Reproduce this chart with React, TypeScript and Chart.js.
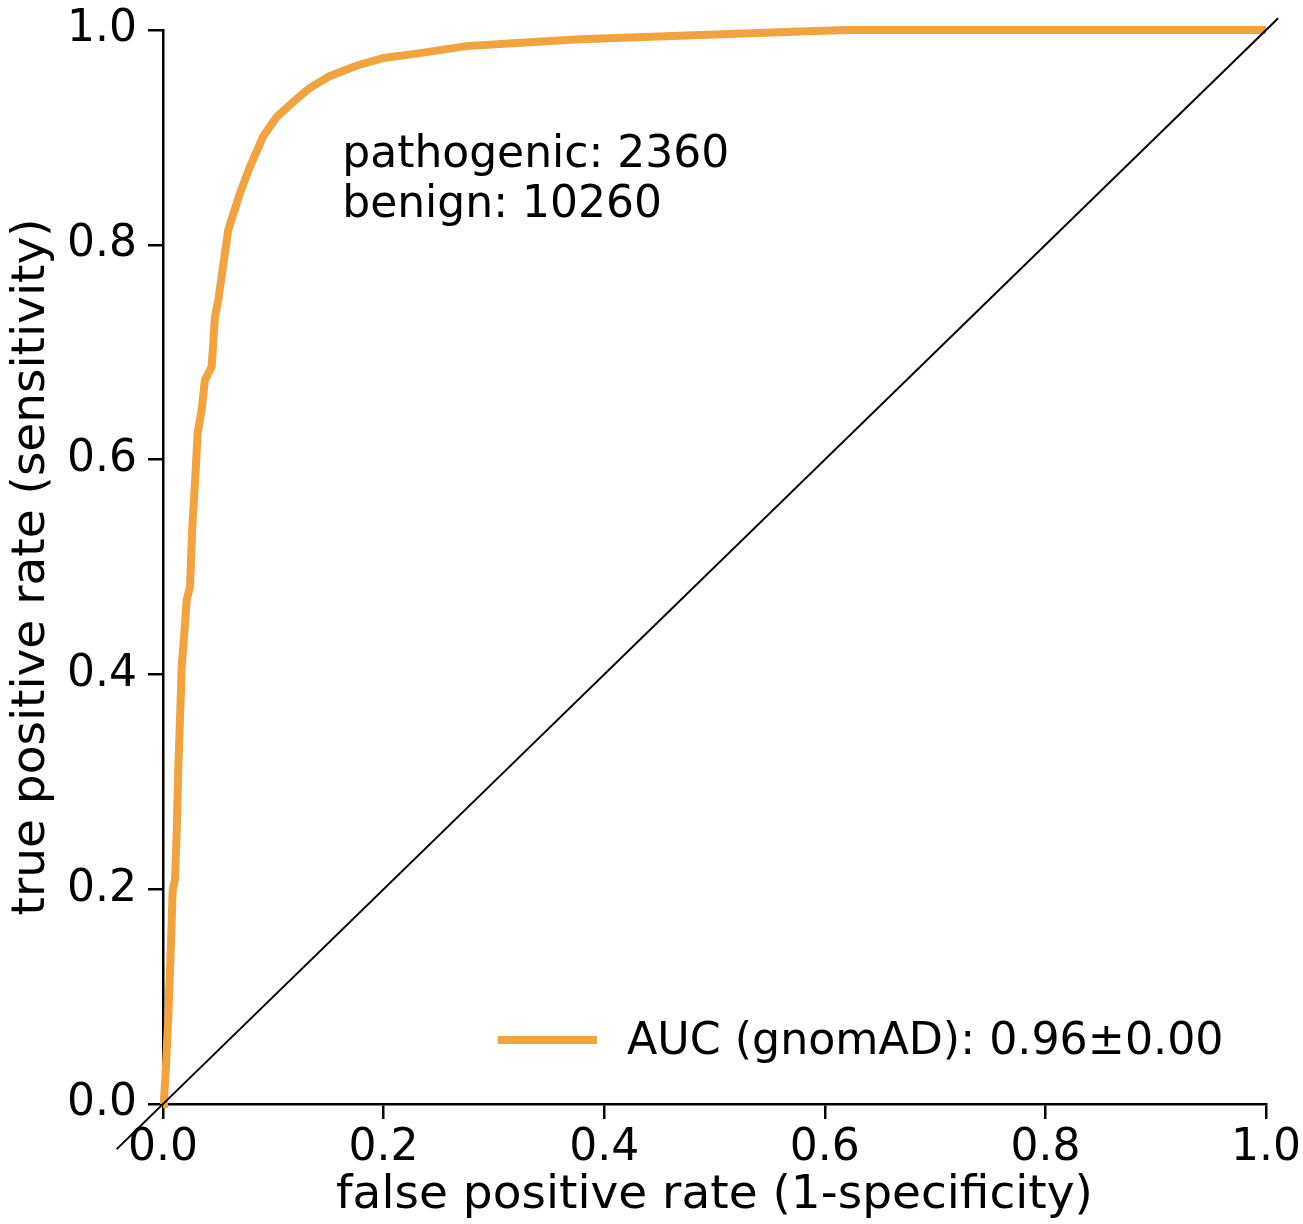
import React, { useEffect, useRef } from "react";
import { Chart, registerables } from "chart.js";

Chart.register(...registerables);

const FONT = "'DejaVu Sans', 'Liberation Sans', sans-serif";

// ROC curve: false positive rate (x) vs true positive rate (y)
const fprValues = [
  0, 0.0009, 0.0027, 0.0048, 0.007, 0.0088, 0.0109, 0.0124, 0.0139, 0.016,
  0.0169, 0.0193, 0.0215, 0.0245, 0.0266, 0.029, 0.0314, 0.035, 0.038, 0.0441,
  0.0471, 0.0502, 0.0592, 0.0698, 0.0789, 0.0909, 0.103, 0.118, 0.133, 0.151,
  0.176, 0.2, 0.23, 0.275, 0.321, 0.378, 0.4295, 0.4687, 0.52, 0.5775,
  0.62, 1.0,
];
const tprValues = [
  0, 0.004, 0.035, 0.081, 0.143, 0.199, 0.209, 0.252, 0.314, 0.376,
  0.407, 0.438, 0.469, 0.482, 0.5375, 0.578, 0.6245, 0.646, 0.674, 0.6865,
  0.733, 0.749, 0.814, 0.848, 0.873, 0.901, 0.919, 0.933, 0.946, 0.957,
  0.967, 0.974, 0.978, 0.985, 0.988, 0.9913, 0.9932, 0.9947, 0.9965, 0.9985,
  1.0, 1.0,
];

// chance diagonal (extends slightly past the axes)
const diagX = [-0.042, 1.011];
const diagY = [-0.042, 1.011];

const xTickValues = [0, 0.2, 0.4, 0.6, 0.8, 1.0];
const xTickLabels = ["0.0", "0.2", "0.4", "0.6", "0.8", "1.0"];
const yTickValues = [0, 0.2, 0.4, 0.6, 0.8, 1.0];
const yTickLabels = ["0.0", "0.2", "0.4", "0.6", "0.8", "1.0"];

const xAxisTitle = "false positive rate (1-specificity)";
const yAxisTitle = "true positive rate (sensitivity)";
const annotationLines = ["pathogenic: 2360", "benign: 10260"];
const legendLabel = "AUC (gnomAD): 0.96\u00B10.00";

const CURVE_COLOR = "#F0A33F";

const overlayPlugin = {
  id: "overlay",
  afterDatasetsDraw(chart: any) {
    const { ctx, chartArea, scales } = chart;
    const xs = scales.x;
    const ys = scales.y;
    ctx.save();
    // annotation text
    ctx.fillStyle = "#000";
    ctx.font = `44px ${FONT}`;
    ctx.textAlign = "left";
    ctx.textBaseline = "alphabetic";
    const ax = xs.getPixelForValue(0.1625);
    ctx.fillText(annotationLines[0], ax, ys.getPixelForValue(0.872));
    ctx.fillText(annotationLines[1], ax, ys.getPixelForValue(0.826));

    // legend
    const ly = chartArea.bottom - 64;
    const lx0 = chartArea.left + 335;
    ctx.strokeStyle = CURVE_COLOR;
    ctx.lineWidth = 8;
    ctx.lineCap = "butt";
    ctx.beginPath();
    ctx.moveTo(lx0, ly);
    ctx.lineTo(lx0 + 99, ly);
    ctx.stroke();
    ctx.fillStyle = "#000";
    ctx.textBaseline = "middle";
    ctx.font = `44.3px ${FONT}`;
    ctx.fillText(legendLabel, lx0 + 129, ly + 2);
    ctx.restore();
  },
};

export default function App() {
  const canvasRef = useRef<HTMLCanvasElement | null>(null);

  useEffect(() => {
    document.body.style.margin = "0";
    const canvas = canvasRef.current;
    if (!canvas) return;

    const curve = fprValues.map((x, i) => ({ x, y: tprValues[i] }));
    const diag = diagX.map((x, i) => ({ x, y: diagY[i] }));

    const tickFont = { family: FONT, size: 44 };
    const titleFont = { family: FONT, size: 47, lineHeight: 1.2 };

    const chart = new Chart(canvas, {
      type: "scatter",
      data: {
        datasets: [
          {
            label: "diagonal",
            data: diag,
            showLine: true,
            borderColor: "#000",
            borderWidth: 2,
            pointRadius: 0,
            clip: false as any,
            order: 0,
          },
          {
            label: legendLabel,
            data: curve,
            showLine: true,
            borderColor: CURVE_COLOR,
            borderWidth: 8,
            pointRadius: 0,
            tension: 0,
            clip: false as any,
            order: 1,
          },
        ],
      },
      options: {
        responsive: false,
        animation: false,
        layout: { padding: { top: 30, right: 37, left: 0, bottom: 0 } },
        plugins: {
          legend: { display: false },
          tooltip: { enabled: false },
        },
        scales: {
          x: {
            type: "linear",
            min: 0,
            max: 1,
            border: { display: true, color: "#000", width: 2.5 },
            grid: {
              drawOnChartArea: false,
              drawTicks: true,
              tickLength: 15,
              tickColor: "#000",
              tickWidth: 2.5,
              lineWidth: 2.5,
              color: "#000",
            },
            ticks: {
              color: "#000",
              font: tickFont,
              padding: 3,
              maxRotation: 0,
              autoSkip: false,
              callback: (v: any) => {
                const i = xTickValues.findIndex((t) => Math.abs(t - v) < 1e-9);
                return i >= 0 ? xTickLabels[i] : "";
              },
            },
            afterBuildTicks: (scale: any) => {
              scale.ticks = xTickValues.map((value) => ({ value }));
            },
            afterFit: (scale: any) => {
              scale.height = 120;
              scale.paddingLeft = 0;
              scale.paddingRight = 0;
            },
            title: {
              display: true,
              text: xAxisTitle,
              color: "#000",
              font: titleFont,
              padding: { top: 0, bottom: 0 },
            },
          },
          y: {
            type: "linear",
            min: 0,
            max: 1,
            border: { display: true, color: "#000", width: 2.5 },
            grid: {
              drawOnChartArea: false,
              drawTicks: true,
              tickLength: 15,
              tickColor: "#000",
              tickWidth: 2.5,
              lineWidth: 2.5,
              color: "#000",
            },
            ticks: {
              color: "#000",
              font: tickFont,
              padding: 11,
              autoSkip: false,
              callback: (v: any) => {
                const i = yTickValues.findIndex((t) => Math.abs(t - v) < 1e-9);
                return i >= 0 ? yTickLabels[i] : "";
              },
            },
            afterBuildTicks: (scale: any) => {
              scale.ticks = yTickValues.map((value) => ({ value }));
            },
            afterFit: (scale: any) => {
              scale.width = 163;
              scale.paddingTop = 0;
              scale.paddingBottom = 0;
            },
            title: {
              display: true,
              text: yAxisTitle,
              color: "#000",
              font: titleFont,
              padding: { top: 4, bottom: 0 },
            },
          },
        },
      },
      plugins: [overlayPlugin],
    });

    return () => {
      chart.destroy();
    };
  }, []);

  return (
    <canvas
      ref={canvasRef}
      width={1303}
      height={1224}
      style={{ display: "block", width: 1303, height: 1224 }}
    />
  );
}
